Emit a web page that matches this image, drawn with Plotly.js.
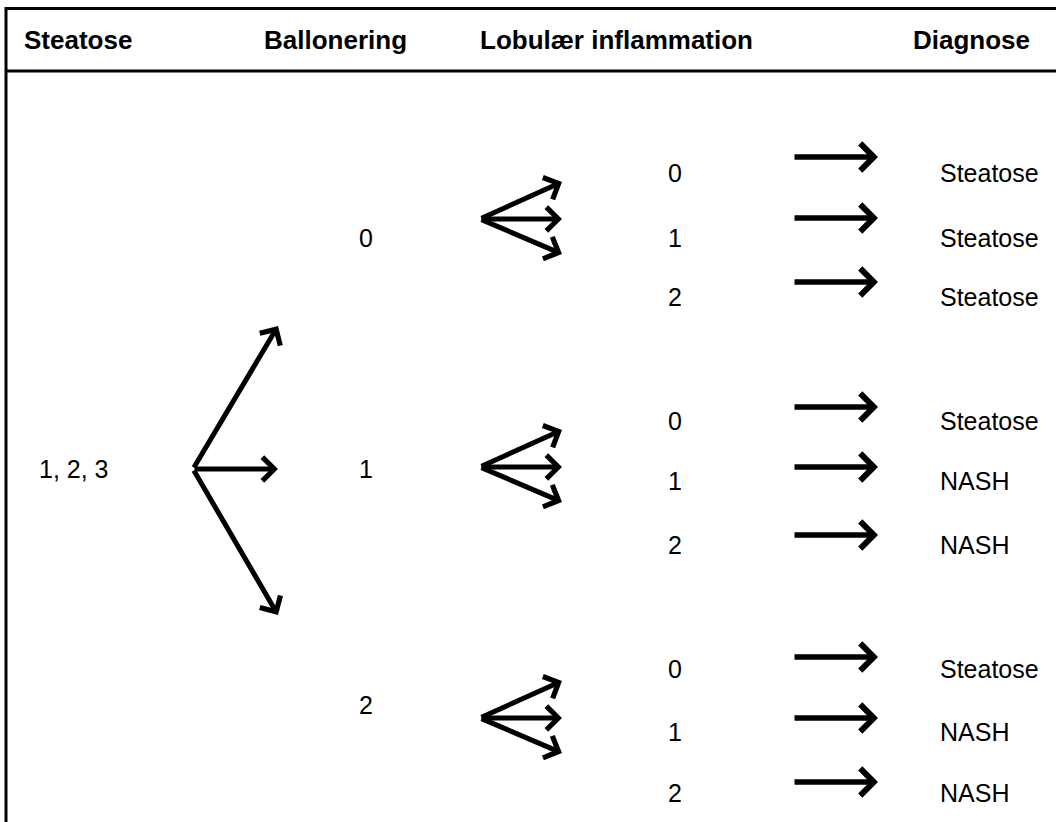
<!DOCTYPE html>
<html>
<head>
<meta charset="utf-8">
<script src="https://cdn.plot.ly/plotly-3.0.1.min.js"></script>
<style>html,body{margin:0;padding:0;background:#fff;}#chart{width:1056px;height:822px;}</style>
</head>
<body>
<div id="chart"></div>
<script>
// ---- content ----
const headers = ['Steatose', 'Ballonering', 'Lobulær inflammation', 'Diagnose'];
const steatoseLevels = ['1, 2, 3'];
const balloneringLevels = ['0', '1', '2'];
const lobularLevels = ['0', '1', '2', '0', '1', '2', '0', '1', '2'];
const diagnoses = ['Steatose', 'Steatose', 'Steatose', 'Steatose', 'NASH', 'NASH', 'Steatose', 'NASH', 'NASH'];

// ---- layout positions (pixel space of the figure) ----
const headerX = [22, 262, 478, 911];
const headerY = 40;
const colX = {steatose: 37, ballon: 366, lobular: 675, diag: 938};
const steatoseY = [469];
const balloneringY = [238, 469, 705];
const lobularY = [173, 238, 297, 421, 481, 545, 669, 732, 793];
const bigFan = {x0: 193, x1: 278, tipY: [326, 469, 615]};
const smallFanY = [219, 467, 718];
const smallFanSpread = [-37, 0, 35];
const smallFan = {x0: 480, x1: 562};
const diagArrowY = [157, 218, 282, 407, 467, 535, 657, 718, 782];
const diagArrow = {x0: 793, x1: 878};

const FONT = 'Liberation Sans, Arial, Helvetica, sans-serif';
const annotations = [];
function label(text, x, y, size, bold, anchor) {
  annotations.push({
    x: x, y: y, xref: 'x', yref: 'y', text: bold ? '<b>' + text + '</b>' : text,
    showarrow: false, xanchor: anchor || 'left', yanchor: 'middle',
    font: {family: FONT, size: size, color: '#000'}
  });
}
function arrow(x0, y0, x1, y1, w, s) {
  annotations.push({
    x: x1, y: y1, ax: x0, ay: y0, xref: 'x', yref: 'y', axref: 'x', ayref: 'y',
    text: '', showarrow: true, arrowhead: 4, arrowsize: s, arrowwidth: w,
    arrowcolor: '#000', standoff: 0, startstandoff: 0
  });
}

headers.forEach((h, i) => label(h, headerX[i], headerY, 26, true));
steatoseLevels.forEach((t, i) => label(t, colX.steatose, steatoseY[i], 25, false));
balloneringLevels.forEach((t, i) => label(t, colX.ballon, balloneringY[i], 25, false, 'center'));
lobularLevels.forEach((t, i) => label(t, colX.lobular, lobularY[i], 25, false, 'center'));
diagnoses.forEach((t, i) => label(t, colX.diag, lobularY[i], 25, false));

bigFan.tipY.forEach(ty => arrow(bigFan.x0, steatoseY[0], bigFan.x1, ty, 5, 0.92));
smallFanY.forEach(cy => smallFanSpread.forEach(d => arrow(smallFan.x0, cy, smallFan.x1, cy + d, 5, 0.92)));
diagArrowY.forEach(y => arrow(diagArrow.x0, y, diagArrow.x1, y, 5.5, 0.95));

const shapes = [
  {type: 'line', xref: 'x', yref: 'y', x0: 5, x1: 1056, y0: 8.5, y1: 8.5, line: {color: '#000', width: 3}},
  {type: 'line', xref: 'x', yref: 'y', x0: 5, x1: 1056, y0: 71, y1: 71, line: {color: '#000', width: 3}},
  {type: 'line', xref: 'x', yref: 'y', x0: 6, x1: 6, y0: 7, y1: 822, line: {color: '#000', width: 3}}
];

const layout = {
  width: 1056, height: 822,
  margin: {l: 0, r: 0, t: 0, b: 0, pad: 0},
  paper_bgcolor: '#fff', plot_bgcolor: '#fff',
  xaxis: {range: [0, 1056], visible: false, fixedrange: true},
  yaxis: {range: [822, 0], visible: false, fixedrange: true},
  showlegend: false,
  annotations: annotations,
  shapes: shapes
};
Plotly.newPlot('chart', [], layout, {staticPlot: true, displayModeBar: false});
</script>
</body>
</html>
